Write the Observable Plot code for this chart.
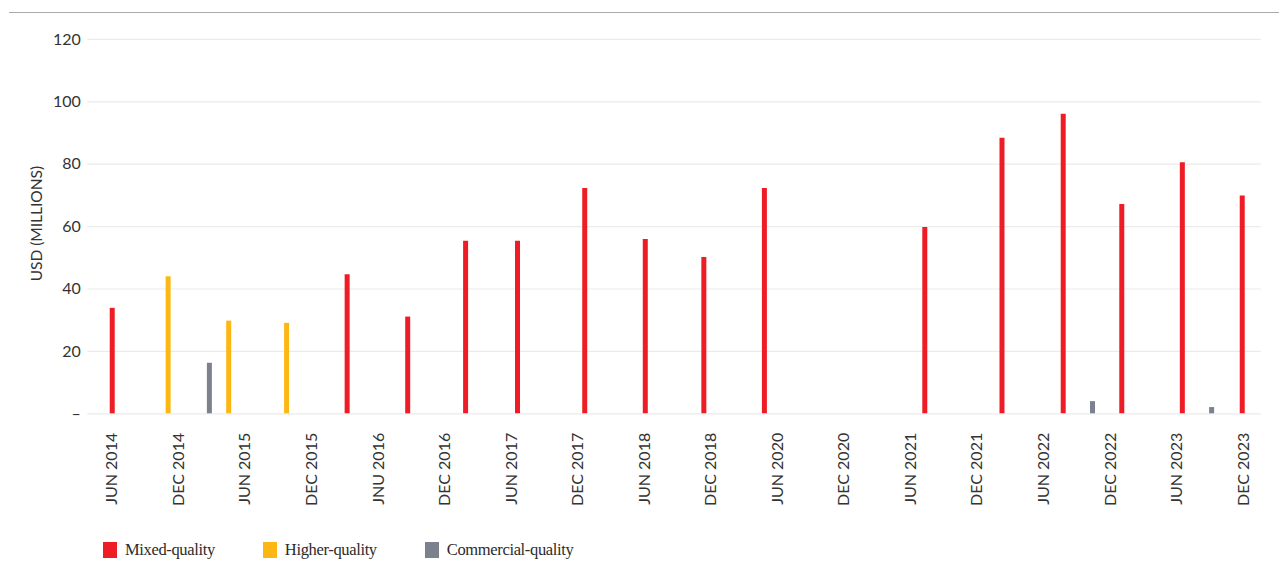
<!DOCTYPE html>
<html>
<head>
<meta charset="utf-8">
<script src="https://cdn.jsdelivr.net/npm/d3@7"></script>
<script src="https://cdn.jsdelivr.net/npm/@observablehq/plot@0.6"></script>
<style>
  html, body { margin: 0; padding: 0; background: #fff; }
  body { width: 1279px; height: 570px; position: relative; overflow: hidden; font-family: Lato, "Noto Sans", sans-serif; }
  #topline { position: absolute; top: 12px; left: 9px; right: 0; border-top: 1.3px solid #ababab; }
  #chart { position: absolute; top: 0; left: 0; }
  #legend { position: absolute; top: 540px; left: 103px; display: flex; align-items: center; font-family: "Liberation Serif", "DejaVu Serif", serif; font-size: 16.5px; letter-spacing: -0.35px; color: #2b2b2b; }
  .item { display: flex; align-items: center; margin-right: 48px; }
  .sw { width: 14px; height: 16px; margin-right: 8px; }
</style>
</head>
<body>
<div id="topline"></div>
<div id="chart"></div>
<div id="legend"></div>
<script>
// Axis categories (tick labels, as printed in the original)
const periods = ["JUN 2014", "DEC 2014", "JUN 2015", "DEC 2015", "JNU 2016", "DEC 2016",
  "JUN 2017", "DEC 2017", "JUN 2018", "DEC 2018", "JUN 2020", "DEC 2020",
  "JUN 2021", "DEC 2021", "JUN 2022", "DEC 2022", "JUN 2023", "DEC 2023"];

// Series names and colours
const seriesNames = ["Mixed-quality", "Higher-quality", "Commercial-quality"];
const seriesColors = ["#ee1d25", "#fdb714", "#7b828e"];

// Each bar: its series, its place on the period axis (in period units) and its value (USD millions)
const barSeries = ["Mixed-quality", "Higher-quality", "Commercial-quality", "Higher-quality", "Higher-quality",
  "Mixed-quality", "Mixed-quality", "Mixed-quality", "Mixed-quality", "Mixed-quality", "Mixed-quality",
  "Mixed-quality", "Mixed-quality", "Mixed-quality", "Mixed-quality", "Mixed-quality", "Commercial-quality",
  "Mixed-quality", "Mixed-quality", "Commercial-quality", "Mixed-quality"];
const barPeriod = [0.00, 0.84, 1.46, 1.75, 2.62, 3.53, 4.44, 5.31, 6.09, 7.10, 8.01,
  8.89, 9.80, 12.21, 13.37, 14.29, 14.73, 15.17, 16.08, 16.52, 16.98];
const barValue = [33.8, 43.9, 16.2, 29.7, 29.0, 44.6, 31.0, 55.3, 55.3, 72.2, 55.9,
  50.1, 72.2, 59.7, 88.3, 96.0, 3.9, 67.1, 80.5, 2.0, 69.8];

const yTicks = [0, 20, 40, 60, 80, 100, 120];
const yLabel = "USD (MILLIONS)";

const bars = barValue.map((v, i) => ({series: barSeries[i], period: barPeriod[i], value: v}));

const plot = Plot.plot({
  width: 1279,
  height: 520,
  marginLeft: 87.3,
  marginRight: 18.3,
  marginTop: 38.9,
  marginBottom: 106.7,
  style: {fontFamily: "Lato, 'Noto Sans', sans-serif", fontSize: "16px", color: "#333", background: "transparent"},
  x: {type: "linear", domain: [-0.367, 17.265]},
  y: {domain: [0, 120]},
  color: {domain: seriesNames, range: seriesColors},
  marks: [
    Plot.ruleY(yTicks, {stroke: "#ebebeb", strokeWidth: 1.2}),
    Plot.ruleX(bars, {x: "period", y1: 0, y2: "value", stroke: "series", strokeWidth: 5}),
    Plot.axisY({ticks: yTicks, tickSize: 0, tickPadding: 7, tickFormat: d => d === 0 ? "–" : String(d), label: null, fontSize: 16}),
    Plot.axisX({ticks: d3.range(periods.length), tickFormat: i => periods[i], tickRotate: -90, tickSize: 0, tickPadding: 19, label: null, fontSize: 16}),
    Plot.text([yLabel], {frameAnchor: "left", textAnchor: "middle", rotate: -90, dx: -50.6, dy: -3, fontSize: 15.5, fill: "#333"})
  ]
});
document.getElementById("chart").appendChild(plot);

const legend = document.getElementById("legend");
seriesNames.forEach((name, i) => {
  const item = document.createElement("div");
  item.className = "item";
  const sw = document.createElement("span");
  sw.className = "sw";
  sw.style.background = seriesColors[i];
  const label = document.createElement("span");
  label.textContent = name;
  item.appendChild(sw);
  item.appendChild(label);
  legend.appendChild(item);
});
</script>
</body>
</html>
